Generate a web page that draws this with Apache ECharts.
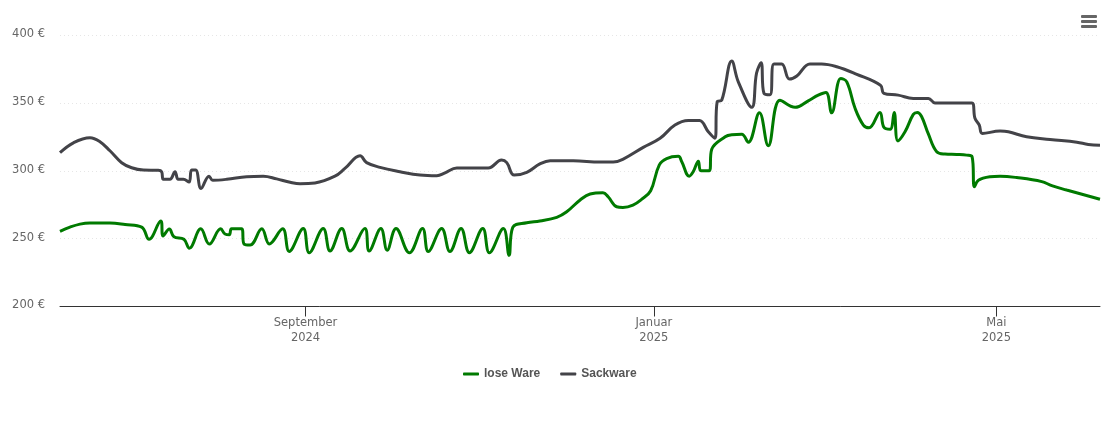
<!DOCTYPE html>
<html><head><meta charset="utf-8">
<script src="https://cdn.jsdelivr.net/npm/echarts@6/dist/echarts.min.js"></script>
<style>html,body{margin:0;padding:0;background:#fff}#c{width:1110px;height:423px}</style>
</head><body><div id="c"></div>
<script>
// Days since the first day on the axis (7 June 2024)
const startDate = Date.UTC(2024, 5, 7);
const axisDays = 364.3;
const tickDates = [Date.UTC(2024, 8, 1), Date.UTC(2025, 0, 1), Date.UTC(2025, 4, 1)];
const tickLabels = ['September\n2024', 'Januar\n2025', 'Mai\n2025'];
const yTicks = [200, 250, 300, 350, 400];

const looseDays = [0,3.5,7,10.5,17.5,22.8,28.6,31.2,35.3,36.1,38.3,39.9,43.4,45.3,49.3,52.3,56.3,57.8,59.3,60.1,63.6,64.5,66.6,70.7,73.3,78,80.3,85.2,87.3,92.2,94.6,98.7,101.6,106.8,108.3,112.4,114.6,117.7,122.4,127,129,133.7,136.6,140.5,143.4,148.1,150.4,155.3,157.3,158.6,163.5,168.1,174,177.5,182.2,185.7,190.2,192,195,197.2,200.7,203.8,206.9,209.9,212.5,216.6,217.8,220.4,221.8,223.6,224.5,227.4,228.3,233,235.3,238.8,241.1,245,248.1,252.2,257.5,262.1,265.6,268.3,270.3,273.5,275.6,278.5,281.4,283.4,287.2,288.6,290.8,292.2,293.5,296,298.9,300.3,301.8,304.1,307.1,310,314.1,317.6,319.5,320.3,321.7,325.8,329.3,335.1,343.9,347.4,352.6,364.3];
const looseValues = [255.4,258.5,260.7,261.5,261.5,260.4,258.5,249.5,263,252,257,251.4,249.5,243,257.2,246,257.2,253.4,252.9,257.2,257.2,246,245.3,257.2,246,257.2,240.6,257.4,239.6,257.4,240.9,257.4,240.9,257.4,240.9,257.4,241.5,257.4,239.6,257.4,240.5,257.4,240.5,257.4,239.6,257.4,239.6,257.4,237.7,258.3,261.7,263,265.7,269.8,278.5,282.9,283.8,280.8,273.5,273,274.7,279.1,285.3,304.2,309,310.6,306.6,296,299.2,307,300,300,315.8,325,326.5,326.8,321,342.7,318.4,352,346.7,351.5,355.7,357.7,342.7,368,365.5,346,333.7,331.7,343,332,330.5,343,322,328.7,341.5,343,340,327.5,314,312.3,312,311.5,310.3,288.2,293,295.6,296,295,292,289,285.8,279];

const sackDays = [0,4.7,10.5,14,17.5,21.6,25.1,29.2,34.4,35.6,36.2,38.5,40.3,41.4,43.2,45.2,46.1,47.5,49.4,52.2,53.5,58.4,65.4,71.2,75.9,80.6,84.1,89.3,96.3,99.8,105.1,107.4,112.1,119.1,126.1,132,134.9,139,150,154.7,156.5,159.1,163.5,168.1,171.7,179.8,189.2,193.8,197.3,204.3,210.2,215.4,220.1,224,227.1,229.4,230.2,231.8,235.3,237.6,242.3,244,245.6,246.6,248.7,250.1,252.8,255.5,258.1,262.7,266.8,272.1,278.9,287.4,288.6,293.6,298.9,304.2,306.5,319.4,320.5,322,323.1,329.3,332.2,338.6,346.8,356.2,360.2,364.3];
const sackValues = [313.3,320.6,324.3,321.4,314.7,305.9,302.2,300.5,300.3,299.3,293.7,293.7,299.3,293.7,293.7,291.7,300.5,300.5,287,296,293,293.7,295.6,296,294,291.5,290.4,291,296,301.7,311,306,302.5,299.3,296.8,296.3,298.5,302,302,307.9,306,296.8,298.8,305,307.4,307.4,306.4,306.4,308.6,317.2,323.9,333.7,337,337,328.7,324,350.8,352,380.8,365.5,346.7,372,379.5,357,356,378.6,378.6,367.5,369.8,378.6,378.6,376.6,371.2,363,357,355.7,353.3,353.3,350,350,338.6,333.7,327.5,329.2,328.7,325,323,321,319.4,318.8];

const DAY = 86400000;
const toSeries = (days, vals) => days.map((d, i) => [startDate + d * DAY, vals[i]]);
const fmt = v => tickLabels[tickDates.indexOf(v)] || '';
const chart = echarts.init(document.getElementById('c'), null, {renderer: 'canvas'});
const fam = '"DejaVu Sans", sans-serif';
chart.setOption({
  animation: false,
  textStyle: {fontFamily: fam},
  grid: {left: 60, right: 10, top: 35, bottom: 116.5},
  legend: {
    left: 458, top: 363, itemWidth: 16, itemHeight: 3, itemGap: 20, icon: 'roundRect',
    textStyle: {fontFamily: '"Liberation Sans", sans-serif', fontSize: 12, fontWeight: 'bold', color: '#555'},
    data: ['lose Ware', 'Sackware']
  },
  xAxis: {
    type: 'value', min: startDate, max: startDate + axisDays * DAY,
    axisLine: {lineStyle: {color: '#333', width: 1}},
    axisTick: {show: true, length: 10, lineStyle: {color: '#333'}, customValues: tickDates},
    axisLabel: {customValues: tickDates, formatter: fmt, color: '#666', fontSize: 11.5, lineHeight: 15, margin: 9, hideOverlap: false},
    splitLine: {show: false}
  },
  yAxis: {
    type: 'value', min: yTicks[0], max: yTicks[yTicks.length - 1], interval: 50,
    axisLine: {show: false}, axisTick: {show: false},
    axisLabel: {formatter: '{value} €', color: '#666', fontSize: 11.5, margin: 15, verticalAlign: 'bottom', lineHeight: 2},
    splitLine: {lineStyle: {color: '#e6e6e6', type: [1, 3], width: 1}}
  },
  series: [
    {name: 'lose Ware', type: 'line', data: toSeries(looseDays, looseValues), smooth: 0.4, showSymbol: false, lineStyle: {color: '#007a00', width: 3}, itemStyle: {color: '#007a00'}},
    {name: 'Sackware', type: 'line', data: toSeries(sackDays, sackValues), smooth: 0.4, showSymbol: false, lineStyle: {color: '#434348', width: 3}, itemStyle: {color: '#434348'}}
  ],
  graphic: [16, 21, 26].map(y => ({type: 'rect', shape: {x: 1081, y: y - 1, width: 16, height: 3, r: 1}, style: {fill: '#666'}}))
});
</script></body></html>
